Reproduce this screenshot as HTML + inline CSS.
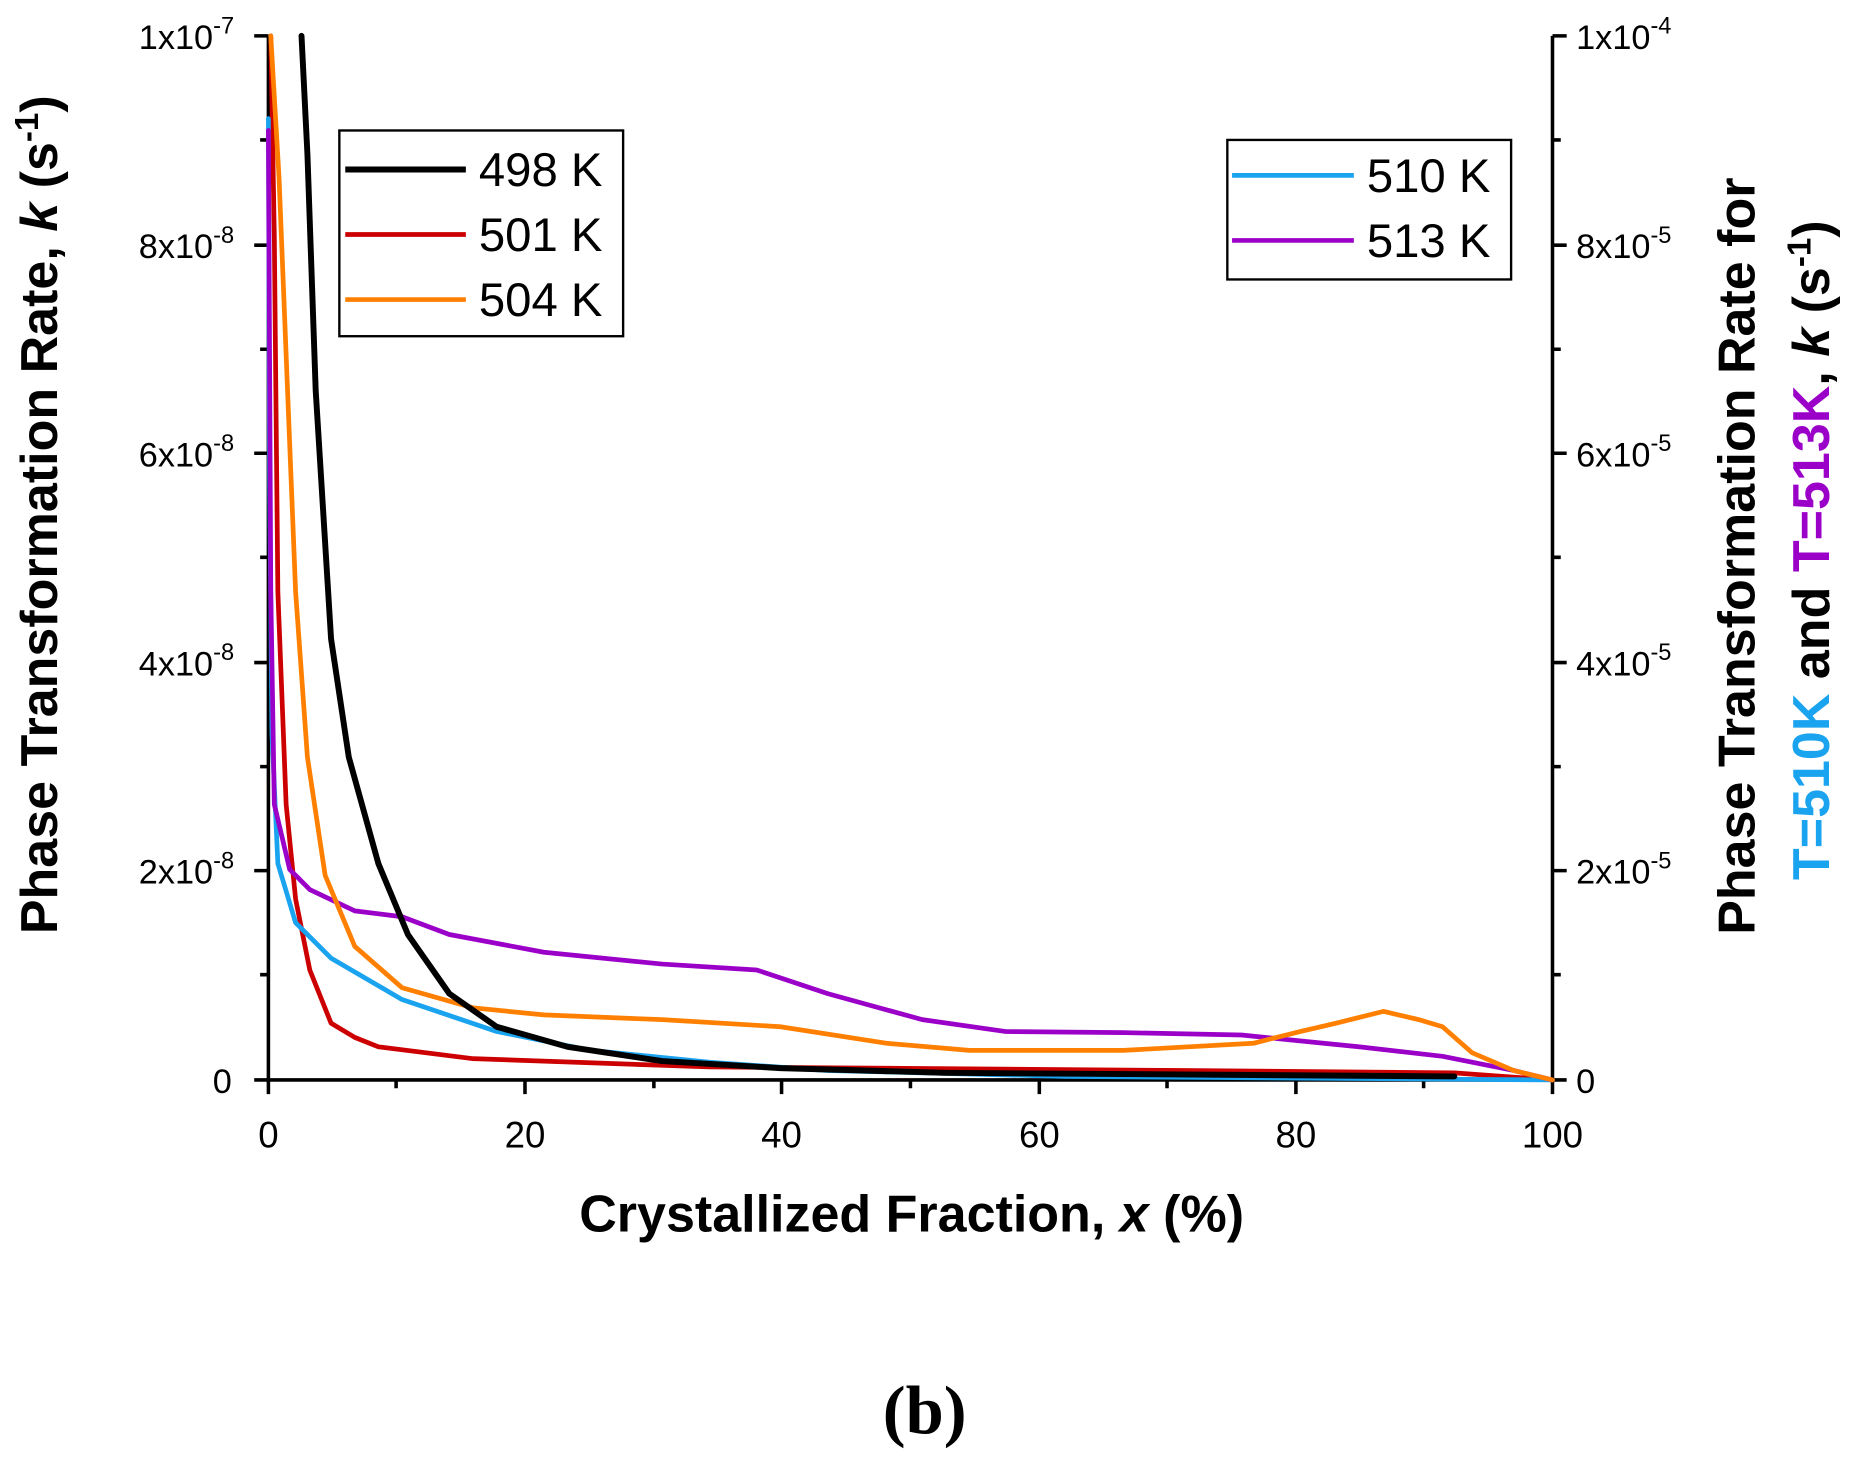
<!DOCTYPE html>
<html><head><meta charset="utf-8"><style>html,body{margin:0;padding:0;background:#fff}svg{display:block}</style></head>
<body>
<svg width="1854" height="1467" viewBox="0 0 1568 1240" xmlns="http://www.w3.org/2000/svg" font-family="Liberation Sans, Arial, sans-serif">
<rect width="1568" height="1240" fill="#fff"/>
<g stroke="#000" stroke-width="3" fill="none">
<line x1="227" y1="30" x2="227" y2="915"/>
<line x1="1313" y1="30" x2="1313" y2="915"/>
<line x1="225" y1="913" x2="1315" y2="913"/>
<path d="M215 30H227M215 207H227M215 383H227M215 560H227M215 736H227M215 913H227"/>
<path d="M220 118H227M220 295H227M220 471H227M220 648H227M220 824H227"/>
<path d="M1313 30H1325M1313 207H1325M1313 383H1325M1313 560H1325M1313 736H1325M1313 913H1325"/>
<path d="M1313 118H1320M1313 295H1320M1313 471H1320M1313 648H1320M1313 824H1320"/>
<path d="M227 913V925M444 913V925M661 913V925M879 913V925M1096 913V925M1313 913V925"/>
<path d="M335 913V920M553 913V920M770 913V920M987 913V920M1204 913V920"/>
</g>
<g font-size="29" fill="#000" text-anchor="end">
<text x="198" y="41">1x10<tspan font-size="20" dy="-13">-7</tspan></text>
<text x="198" y="218">8x10<tspan font-size="20" dy="-13">-8</tspan></text>
<text x="198" y="394">6x10<tspan font-size="20" dy="-13">-8</tspan></text>
<text x="198" y="571">4x10<tspan font-size="20" dy="-13">-8</tspan></text>
<text x="198" y="747">2x10<tspan font-size="20" dy="-13">-8</tspan></text>
<text x="196" y="924">0</text>
</g>
<g font-size="29" fill="#000" text-anchor="start">
<text x="1333" y="41">1x10<tspan font-size="20" dy="-13">-4</tspan></text>
<text x="1333" y="218">8x10<tspan font-size="20" dy="-13">-5</tspan></text>
<text x="1333" y="394">6x10<tspan font-size="20" dy="-13">-5</tspan></text>
<text x="1333" y="571">4x10<tspan font-size="20" dy="-13">-5</tspan></text>
<text x="1333" y="747">2x10<tspan font-size="20" dy="-13">-5</tspan></text>
<text x="1333" y="924">0</text>
</g>
<g font-size="31" fill="#000" text-anchor="middle">
<text x="227" y="970">0</text><text x="444" y="970">20</text><text x="661" y="970">40</text>
<text x="879" y="970">60</text><text x="1096" y="970">80</text><text x="1313" y="970">100</text>
</g>
<text x="771" y="1041" font-size="44" font-weight="bold" text-anchor="middle">Crystallized Fraction, <tspan font-style="italic">x</tspan> (%)</text>
<text transform="translate(48,435) rotate(-90)" font-size="44" font-weight="bold" text-anchor="middle">Phase Transformation Rate, <tspan font-style="italic">k</tspan> (s<tspan font-size="28" dy="-16">-1</tspan><tspan dy="16">)</tspan></text>
<text transform="translate(1484,470) rotate(-90)" font-size="44" font-weight="bold" text-anchor="middle">Phase Transformation Rate for</text>
<text transform="translate(1547,465) rotate(-90)" font-size="44" font-weight="bold" text-anchor="middle"><tspan fill="#1aa3ef">T=510K</tspan> and <tspan fill="#9b00c8">T=513K</tspan>, <tspan font-style="italic">k</tspan> (s<tspan font-size="28" dy="-16">-1</tspan><tspan dy="16">)</tspan></text>
<text x="782" y="1212" font-size="58" font-weight="bold" text-anchor="middle" font-family="Liberation Serif, serif">(b)</text>
<g fill="none" stroke-linejoin="round" stroke-linecap="round">
<path stroke="#cc0000" stroke-width="4" d="M229 30L232 200L235 500L242 680L250 760L262 820L280 865L300 877L320 885L400 895L600 902L1000 905L1230 907L1313 913"/>
<path stroke="#1aa3ef" stroke-width="4" d="M227 100L228 400L230 620L235 730L250 780L280 810L340 845L420 872L500 888L600 898L700 905L900 910L1313 913"/>
<path stroke="#9b00c8" stroke-width="4" d="M227 110L229 500L232 680L245 735L262 752L300 770L340 775L380 790L460 805L560 815L640 820L700 840L780 862L850 872L950 873L1050 875L1150 885L1220 893L1280 905L1313 913"/>
<path stroke="#ff8000" stroke-width="4" d="M229 30L236 150L242 300L250 500L260 640L275 740L300 800L340 835L400 852L460 858L560 862L660 868L750 882L820 888L950 888L1060 882L1100 872L1130 865L1170 855L1200 862L1220 868L1245 890L1280 905L1313 913"/>
<path stroke="#000" stroke-width="5" d="M255 30L260 130L267 330L280 540L295 640L320 730L345 790L380 840L420 868L480 885L560 897L660 903L800 907L1230 910"/>
</g>
<rect x="287" y="110" width="240" height="174" fill="#fff" stroke="#000" stroke-width="2"/>
<g stroke-width="4">
<line x1="292" y1="143" x2="394" y2="143" stroke="#000" stroke-width="5"/>
<line x1="292" y1="198" x2="394" y2="198" stroke="#cc0000"/>
<line x1="292" y1="253" x2="394" y2="253" stroke="#ff8000"/>
</g>
<g font-size="40"><text x="405" y="157">498 K</text><text x="405" y="212">501 K</text><text x="405" y="267">504 K</text></g>
<rect x="1038" y="118" width="240" height="118" fill="#fff" stroke="#000" stroke-width="2"/>
<line x1="1042" y1="148" x2="1145" y2="148" stroke="#1aa3ef" stroke-width="4"/>
<line x1="1042" y1="203" x2="1145" y2="203" stroke="#9b00c8" stroke-width="4"/>
<g font-size="40"><text x="1156" y="162">510 K</text><text x="1156" y="217">513 K</text></g>
</svg>
</body></html>
